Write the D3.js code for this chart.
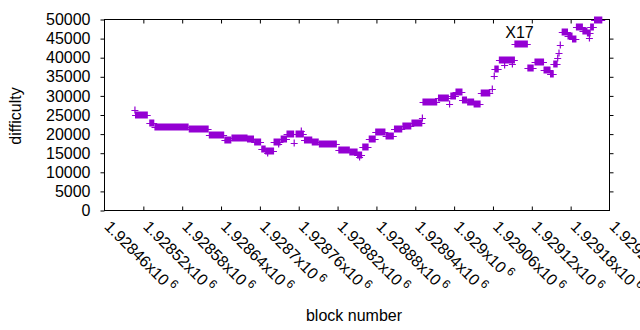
<!DOCTYPE html>
<html>
<head>
<meta charset="utf-8">
<script src="https://cdn.jsdelivr.net/npm/d3@7"></script>
<style>
    body { margin: 0; background: #fff; }
    #chart { width: 640px; height: 330px; }
    text { font-family: "Liberation Sans", Arial, sans-serif; fill: #000; }
</style>
</head>
<body>
<div id="chart"></div>
<script>
// runs of blocks sharing one difficulty value (start == end for a lone point)
var runStart = [1928507, 1928508, 1928530, 1928538, 1928591, 1928622, 1928646, 1928657, 1928681, 1928692,
    1928703, 1928709, 1928712, 1928722, 1928729, 1928733, 1928742, 1928753, 1928756, 1928764,
    1928769, 1928781, 1928792, 1928822, 1928839, 1928851, 1928854, 1928859, 1928869, 1928879,
    1928895, 1928908, 1928921, 1928935, 1928951, 1928952, 1928976, 1928993, 1928995, 1929003,
    1929013, 1929021, 1929031, 1929042, 1929059, 1929062, 1929063, 1929070, 1929078, 1929090,
    1929094, 1929114, 1929125, 1929139, 1929149, 1929154, 1929160, 1929162, 1929164, 1929167,
    1929176, 1929183, 1929189, 1929199, 1929206, 1929209, 1929211, 1929217];
var runEnd = [1928507, 1928526, 1928536, 1928589, 1928620, 1928644, 1928655, 1928680, 1928690, 1928701,
    1928708, 1928721, 1928712, 1928731, 1928729, 1928741, 1928752, 1928753, 1928767, 1928764,
    1928780, 1928790, 1928818, 1928838, 1928850, 1928857, 1928854, 1928867, 1928878, 1928893,
    1928906, 1928919, 1928933, 1928950, 1928951, 1928973, 1928991, 1928993, 1929002, 1929012,
    1929019, 1929030, 1929040, 1929055, 1929059, 1929062, 1929068, 1929093, 1929078, 1929090,
    1929113, 1929122, 1929138, 1929148, 1929153, 1929159, 1929160, 1929162, 1929164, 1929175,
    1929182, 1929188, 1929198, 1929205, 1929210, 1929209, 1929215, 1929228];
var difficulty = [26200, 25000, 22900, 21900, 21350, 19800, 18500, 18900, 18700, 17900,
    16200, 15700, 15100, 18000, 17300, 18800, 19900, 17800, 20100, 20700,
    18400, 17900, 17300, 15900, 15250, 14600, 14000, 16600, 18600, 20500,
    19600, 21400, 22000, 22900, 24300, 28500, 29400, 27800, 29900, 31000,
    28800, 28300, 27800, 30700, 31700, 35300, 37100, 39300, 38200, 38300,
    43650, 37200, 38850, 36700, 35800, 38400, 39800, 41300, 43200, 46700,
    45800, 45000, 48000, 47050, 46500, 45100, 48000, 49750];

var xTicks = d3.range(1928460, 1929241, 60);
var yTicks = d3.range(0, 50001, 5000);

var labelText = "X17";
var labelBlock = 1929101;
var labelValue = 46700;

var width = 640;
var height = 330;
var margin = {top: 19.5, left: 104.5, right: 30.5, bottom: 119.5};
var purple = "#9400d3";

var svg = d3.select("#chart")
    .append("svg")
    .attr("width", width)
    .attr("height", height);

var xScale = d3.scaleLinear()
    .domain([1928460, 1929240])
    .range([margin.left, width - margin.right]);

var yScale = d3.scaleLinear()
    .domain([0, 50000])
    .range([height - margin.bottom, margin.top]);

var runs = runStart.map(function(s, i) {
    return {start: s, end: runEnd[i], value: difficulty[i]};
});

// y axis (ticks out on the left, mirrored in on the right)
var yAxis = svg.append("g")
    .attr("transform", `translate(${margin.left},0)`)
    .call(d3.axisLeft(yScale).tickValues(yTicks).tickSize(4).tickPadding(10).tickFormat(d3.format("d")));
yAxis.select(".domain").remove();
yAxis.selectAll("text").style("font-size", "16px");

var yAxisRight = svg.append("g")
    .attr("transform", `translate(${width - margin.right},0)`)
    .call(d3.axisLeft(yScale).tickValues(yTicks.slice(1, -1)).tickSize(-4).tickFormat(""));
yAxisRight.select(".domain").remove();

var xAxis = svg.append("g")
    .attr("transform", `translate(0,${height - margin.bottom})`)
    .call(d3.axisTop(xScale).tickValues(xTicks.slice(1, -1)).tickSize(4).tickFormat(""));
xAxis.select(".domain").remove();

var xAxisTop = svg.append("g")
    .attr("transform", `translate(0,${margin.top})`)
    .call(d3.axisBottom(xScale).tickValues(xTicks.slice(1, -1)).tickSize(4).tickFormat(""));
xAxisTop.select(".domain").remove();

svg.selectAll(".tick line").attr("stroke", "#000");

svg.append("rect")
    .attr("x", margin.left)
    .attr("y", margin.top)
    .attr("width", width - margin.right - margin.left)
    .attr("height", height - margin.bottom - margin.top)
    .attr("fill", "none")
    .attr("stroke", "#000");

// rotated x tick labels like 1.92846x10^6
var xLabels = svg.append("g")
    .selectAll("text")
    .data(xTicks)
    .enter()
    .append("text")
        .attr("transform", function(d) { return `translate(${xScale(d) - 1},${height - margin.bottom + 17}) rotate(45)`; })
        .style("font-size", "16px");
xLabels.append("tspan")
    .text(function(d) { return String(+(d / 1e6).toFixed(5)) + "x10"; });
xLabels.append("tspan")
    .attr("dx", 3)
    .attr("dy", -6)
    .style("font-size", "12px")
    .text("6");

// points: each run of "+" marks overlaps into a solid bar
var marks = svg.append("g");
marks.selectAll("rect")
    .data(runs)
    .enter()
    .append("rect")
        .attr("x", function(d) { return xScale(d.start) - 0.6; })
        .attr("y", function(d) { return Math.round(yScale(d.value)) - 3.5; })
        .attr("width", function(d) { return xScale(d.end) - xScale(d.start) + 1.2; })
        .attr("height", 7)
        .attr("fill", purple);
marks.selectAll("line")
    .data(runs)
    .enter()
    .append("line")
        .attr("x1", function(d) { return xScale(d.start) - 3.5; })
        .attr("x2", function(d) { return xScale(d.end) + 3.5; })
        .attr("y1", function(d) { return Math.round(yScale(d.value)) + 0.5; })
        .attr("y2", function(d) { return Math.round(yScale(d.value)) + 0.5; })
        .attr("stroke", purple)
        .attr("stroke-width", 1);

svg.append("text")
    .attr("x", xScale(labelBlock))
    .attr("y", yScale(labelValue))
    .attr("dy", "0.36em")
    .attr("text-anchor", "middle")
    .style("font-size", "16px")
    .text(labelText);

var xAxisLabel = svg.append("text")
    .attr("x", 354)
    .attr("y", 321)
    .attr("text-anchor", "middle")
    .style("font-size", "16px")
    .text("block number");

var yAxisLabel = svg.append("text")
    .attr("transform", "rotate(-90)")
    .attr("x", -116)
    .attr("y", 21)
    .attr("text-anchor", "middle")
    .style("font-size", "16px")
    .text("difficulty");
</script>
</body>
</html>
